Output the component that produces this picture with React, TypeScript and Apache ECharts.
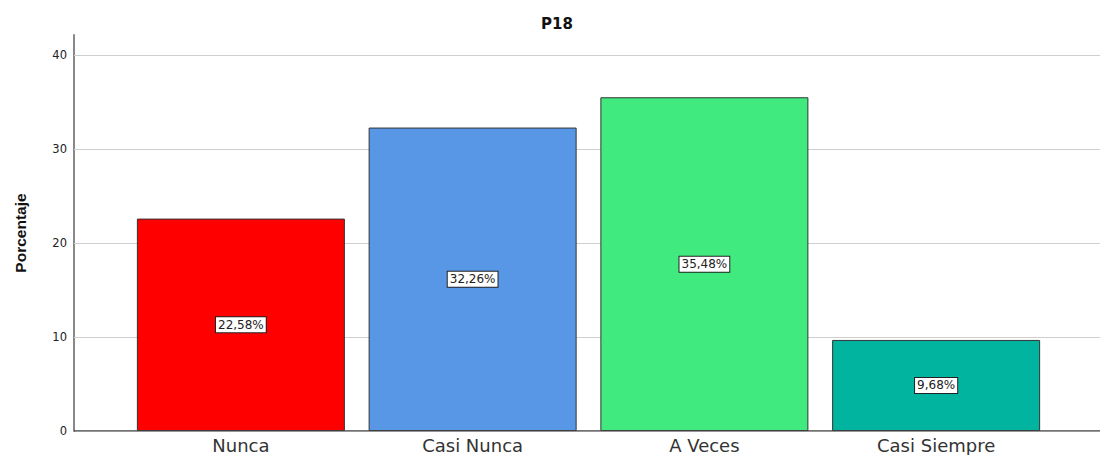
import React, { useEffect, useRef } from "react";
import * as echarts from "echarts";

const categories = ["Nunca", "Casi Nunca", "A Veces", "Casi Siempre"];
const values = [22.58, 32.26, 35.48, 9.68];
const colors = ["#FF0000", "#5896E6", "#40EA7E", "#00B4A0"];
const yTicks = [0, 10, 20, 30, 40];

export default function App() {
  const ref = useRef<HTMLDivElement>(null);
  useEffect(() => {
    document.body.style.margin = "0";
    const chart = echarts.init(ref.current!, null, { renderer: "svg" });
    chart.setOption({
      animation: false,
      backgroundColor: "#ffffff",
      title: {
        text: "P18",
        left: 552,
        textAlign: "center",
        top: 11,
        textStyle: { fontFamily: "DejaVu Sans", fontWeight: "bold", fontSize: 15, color: "#111" },
      },
      grid: [
        { left: 74, right: 0, top: 35, bottom: 24, containLabel: false },
        { left: 125, right: 48, top: 35, bottom: 24, containLabel: false },
      ],
      xAxis: [
        { type: "value", gridIndex: 0, show: false, min: 0, max: 1 },
        {
          type: "category",
          gridIndex: 1,
          data: categories,
          axisTick: { show: false },
          axisLine: { show: false },
          axisLabel: { fontFamily: "DejaVu Sans", fontSize: 18, color: "#333", margin: 5 },
        },
      ],
      yAxis: [
        {
          type: "value",
          gridIndex: 0,
          min: 0,
          max: 42.1,
          interval: 10,
          name: "Porcentaje",
          nameLocation: "middle",
          nameGap: 46,
          nameTextStyle: { fontFamily: "Liberation Sans", fontWeight: "bold", fontSize: 15.5, color: "#111" },
          axisLine: { show: true, lineStyle: { color: "#888", width: 2 } },
          axisTick: { show: false },
          axisLabel: {
            fontFamily: "DejaVu Sans",
            fontSize: 11.5,
            color: "#222",
            margin: 7,
            formatter: (v: number) => (yTicks.includes(v) ? String(v) : ""),
          },
          splitLine: { show: false },
        },
        { type: "value", gridIndex: 1, min: 0, max: 42.1, show: false },
      ],
      series: [
        {
          type: "line",
          xAxisIndex: 0,
          yAxisIndex: 0,
          data: [[0, 0], [1, 0]],
          symbol: "none",
          lineStyle: { color: "#444", width: 1.5 },
          silent: true,
          z: 5,
          markLine: {
            silent: true,
            symbol: "none",
            label: { show: false },
            lineStyle: { color: "#cfcfcf", width: 1, type: "solid" },
            data: yTicks.filter((t) => t > 0).map((t) => ({ yAxis: t })),
            z: 1,
          },
        },
        {
          type: "bar",
          xAxisIndex: 1,
          yAxisIndex: 1,
          barWidth: 208,
          data: values.map((v, i) => ({ value: v, itemStyle: { color: colors[i] } })),
          itemStyle: { borderColor: "#333", borderWidth: 1 },
          z: 3,
          label: {
            show: true,
            position: "inside",
            formatter: (p: any) => p.value.toFixed(2).replace(".", ",") + "%",
            fontFamily: "DejaVu Sans",
            fontSize: 12,
            color: "#222",
            backgroundColor: "#fff",
            borderColor: "#222",
            borderWidth: 1,
            padding: [2, 2, 1, 2],
          },
        },
      ],
    });
    return () => chart.dispose();
  }, []);
  return <div ref={ref} style={{ width: 1100, height: 455 }} />;
}
